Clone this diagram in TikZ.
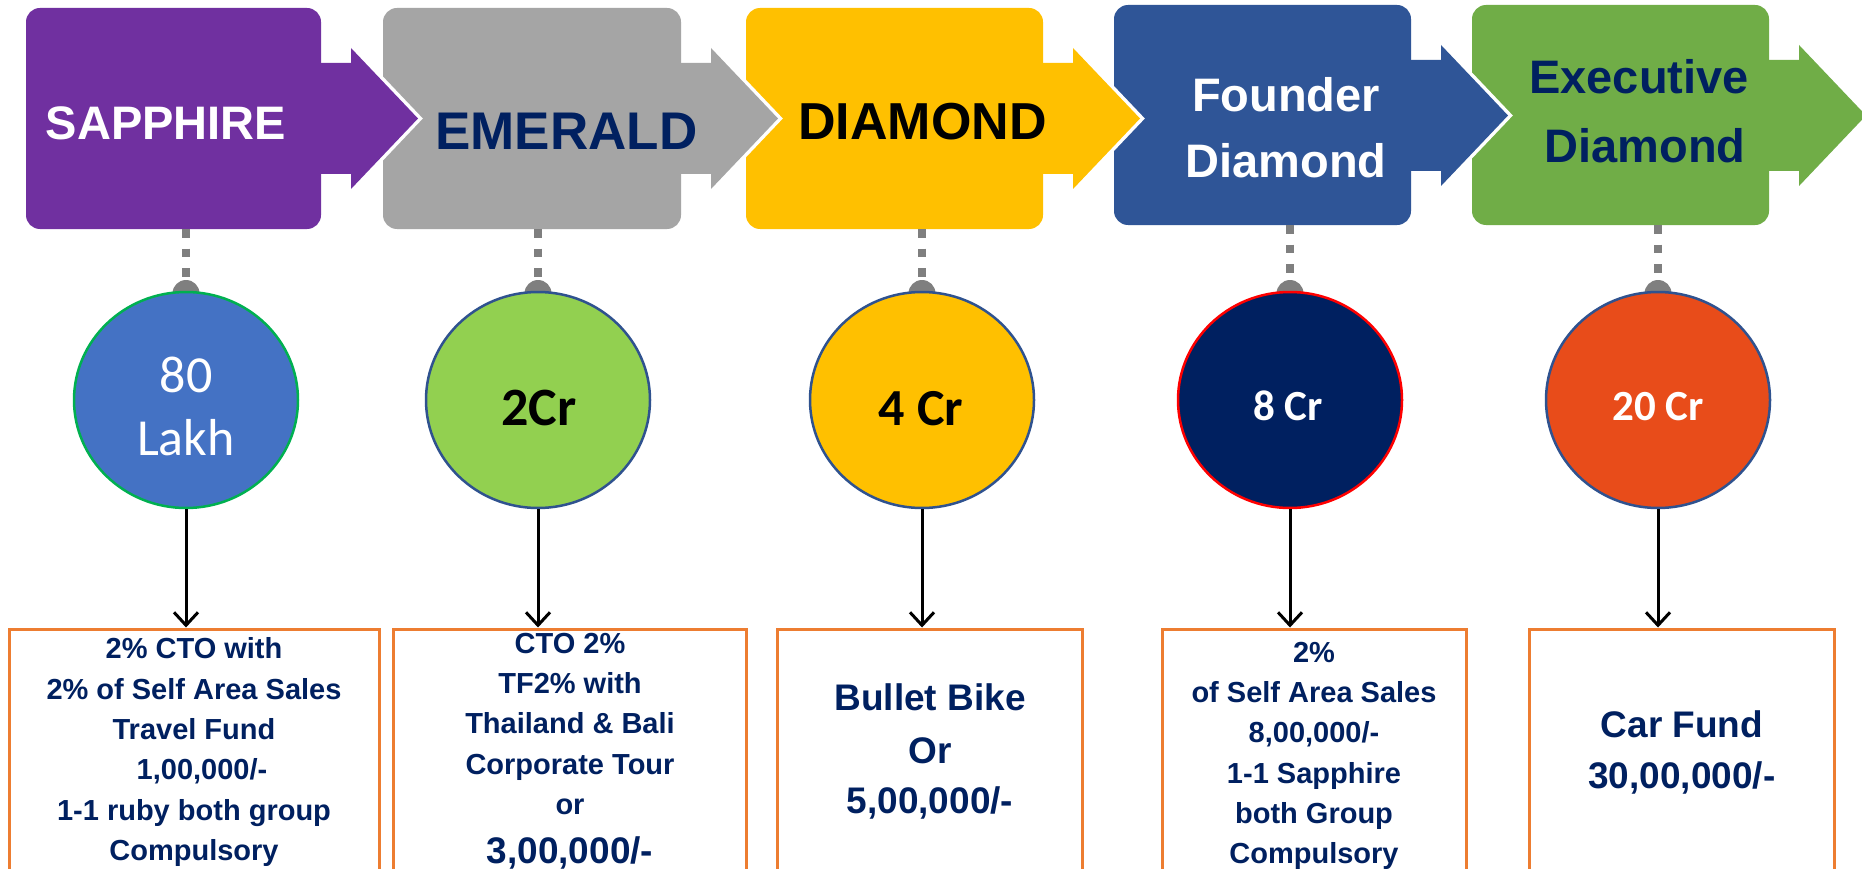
\documentclass[tikz,border=0pt]{standalone}
\usepackage{fontspec}
\setmainfont{Liberation Sans}
\newfontfamily\calib{Carlito}
\usetikzlibrary{arrows.meta,shapes.geometric}
\definecolor{cpurple}{HTML}{7030A0}
\definecolor{cgray}{HTML}{A5A5A5}
\definecolor{cyellow}{HTML}{FFC000}
\definecolor{cblue}{HTML}{2F5597}
\definecolor{cgreen}{HTML}{70AD47}
\definecolor{navy}{HTML}{002060}
\definecolor{cblueb}{HTML}{4472C4}
\definecolor{cgreenb}{HTML}{00B050}
\definecolor{clime}{HTML}{92D050}
\definecolor{cborder}{HTML}{2F528F}
\definecolor{cred}{HTML}{FF0000}
\definecolor{corange}{HTML}{E84C1A}
\definecolor{dotgray}{HTML}{7F7F7F}
\definecolor{boxorange}{HTML}{ED7D31}
\newcommand\mybanner[6]{%
  \node[inner sep=0pt, minimum width={(#5-#3)*1pt}, minimum height={(#6-#4)*1pt}] (#1) at ({(#3+#5)/2},{(#4+#6)/2}) {};
  \draw[white,line width=7pt,rounded corners=14pt] (#3,#4) rectangle (#5,#6);
  \draw[white,line width=7pt,line join=miter] ({#5-5},{#4+55}) -- ({#5+30},{#4+55}) -- ({#5+30},{#4+40}) -- ({#5+97},{#4+110.5}) -- ({#5+30},{#4+181}) -- ({#5+30},{#4+166}) -- ({#5-5},{#4+166}) -- cycle;
  \fill[#2,rounded corners=14pt] (#3,#4) rectangle (#5,#6);
  \fill[#2] ({#5-5},{#4+55}) -- ({#5+30},{#4+55}) -- ({#5+30},{#4+40}) -- ({#5+97},{#4+110.5}) -- ({#5+30},{#4+181}) -- ({#5+30},{#4+166}) -- ({#5-5},{#4+166}) -- cycle;
}
\newcommand\bl[4]{\node[boxtxt] (#1) at (#2,#3) {#4};}
\begin{document}
\begin{tikzpicture}[x=1pt,y=-1pt,
  bantxt/.style={anchor=base, inner sep=0pt, font=\fontsize{47}{56}\selectfont\bfseries},
  boxtxt/.style={anchor=base, inner sep=0pt, text=navy, font=\fontsize{29}{34}\selectfont\bfseries},
  bigtxt/.style={boxtxt, font=\fontsize{37}{44}\selectfont\bfseries},
  disc/.style={ellipse, inner sep=0pt, minimum width=224pt, minimum height=216pt, line width=2.5pt},
  ctxt/.style={anchor=base, inner sep=0pt, font=\calib\fontsize{52}{60}\selectfont},
  ctxtb/.style={anchor=base, inner sep=0pt, font=\calib\fontsize{43}{50}\selectfont\bfseries},
  prize/.style={draw=boxorange, line width=3pt, inner sep=0pt, minimum height=260pt},
  dots/.style={dotgray, line width=8pt, dash pattern=on 8.5pt off 11pt},
  knob/.style={fill=dotgray},
  link/.style={line width=3pt, -{Straight Barb[length=13pt,width=24pt]}}
]
\useasboundingbox (0,0) rectangle (1862,869);
\fill[white] (0,0) rectangle (1862,869);
% banners, right to left
\mybanner{B5}{cgreen}{1472}{5}{1769}{225}
\mybanner{B4}{cblue}{1114}{5}{1411}{225}
\mybanner{B3}{cyellow}{746}{8}{1043}{229}
\mybanner{B2}{cgray}{383}{8}{681}{229}
\mybanner{B1}{cpurple}{26}{8}{321}{229}
\node[bantxt, text=white] (T1) at (166,140) {SAPPHIRE};
\node[bantxt, text=navy, font=\fontsize{53}{60}\selectfont\bfseries] (T2) at (566.5,150) {EMERALD};
\node[bantxt, text=black, font=\fontsize{52}{60}\selectfont\bfseries] (T3) at (922.5,140) {DIAMOND};
\node[bantxt, text=white] (T4a) at (1286,112) {Founder};
\node[bantxt, text=white] (T4b) at (1286,178) {Diamond};
\node[bantxt, text=navy] (T5a) at (1639,94) {Executive};
\node[bantxt, text=navy] (T5b) at (1645,163) {Diamond};
% knobs
\foreach \n/\x in {1/186,2/538,3/922,4/1290,5/1658}{
  \coordinate (K\n) at (\x,293.5);
  \draw[dots] (B\n.south -| K\n) -- (K\n);
  \fill[knob] (K\n) circle (13.5pt);
}
% discs
\node[disc, fill=cblueb, draw=cgreenb] (C1) at (186,400) {};
\node[disc, fill=clime, draw=cborder] (C2) at (538,400) {};
\node[disc, fill=cyellow, draw=cborder] (C3) at (922,400) {};
\node[disc, fill=navy, draw=cred] (C4) at (1290,400) {};
\node[disc, fill=corange, draw=cborder] (C5) at (1658,400) {};
\node[ctxt, text=white] (L1a) at (186,392) {80};
\node[ctxt, text=white] (L1b) at (186,455) {Lakh};
\node[ctxtb, text=black, font=\calib\fontsize{54}{60}\selectfont\bfseries] (L2) at (539,425) {2Cr};
\node[ctxtb, text=black, font=\calib\fontsize{52}{60}\selectfont\bfseries] (L3) at (921,425) {4 Cr};
\node[ctxtb, text=white] (L4) at (1288,420) {8 Cr};
\node[ctxtb, text=white] (L5) at (1658,420) {20 Cr};
% prize boxes (bottom edge lies below the picture)
\node[prize, minimum width=370pt] (D1) at (194,759) {};
\node[prize, minimum width=353pt] (D2) at (569.5,759) {};
\node[prize, minimum width=305pt] (D3) at (929.5,759) {};
\node[prize, minimum width=304pt] (D4) at (1314,759) {};
\node[prize, minimum width=305pt] (D5) at (1681.5,759) {};
\foreach \n in {1,...,5}{
  \draw[link] (C\n.south) -- (C\n.south |- D\n.north);
}
% box texts
\bl{s1}{194}{658}{2\% CTO with}
\bl{s2}{194}{699}{2\% of Self Area Sales}
\bl{s3}{194}{739}{Travel Fund}
\bl{s4}{202}{779}{1,00,000/-}
\bl{s5}{194}{820}{1-1 ruby both group}
\bl{s6}{194}{860}{Compulsory}
\bl{e1}{570}{653}{CTO 2\%}
\bl{e2}{570}{693}{TF2\% with}
\bl{e3}{570}{733}{Thailand \& Bali}
\bl{e4}{570}{774}{Corporate Tour}
\bl{e5}{570}{814}{or}
\node[bigtxt] (e6) at (570,863) {3,00,000/-};
\node[bigtxt] (d1) at (930,710) {Bullet Bike};
\node[bigtxt] (d2) at (930,763) {Or};
\node[bigtxt] (d3) at (930,813) {5,00,000/-};
\bl{f1}{1314}{662}{2\%}
\bl{f2}{1314}{702}{of Self Area Sales}
\bl{f3}{1314}{742}{8,00,000/-}
\bl{f4}{1314}{783}{1-1 Sapphire}
\bl{f5}{1314}{823}{both Group}
\bl{f6}{1314}{863}{Compulsory}
\node[bigtxt] (x1) at (1682,737) {Car Fund};
\node[bigtxt] (x2) at (1682,788) {30,00,000/-};
\end{tikzpicture}
\end{document}
